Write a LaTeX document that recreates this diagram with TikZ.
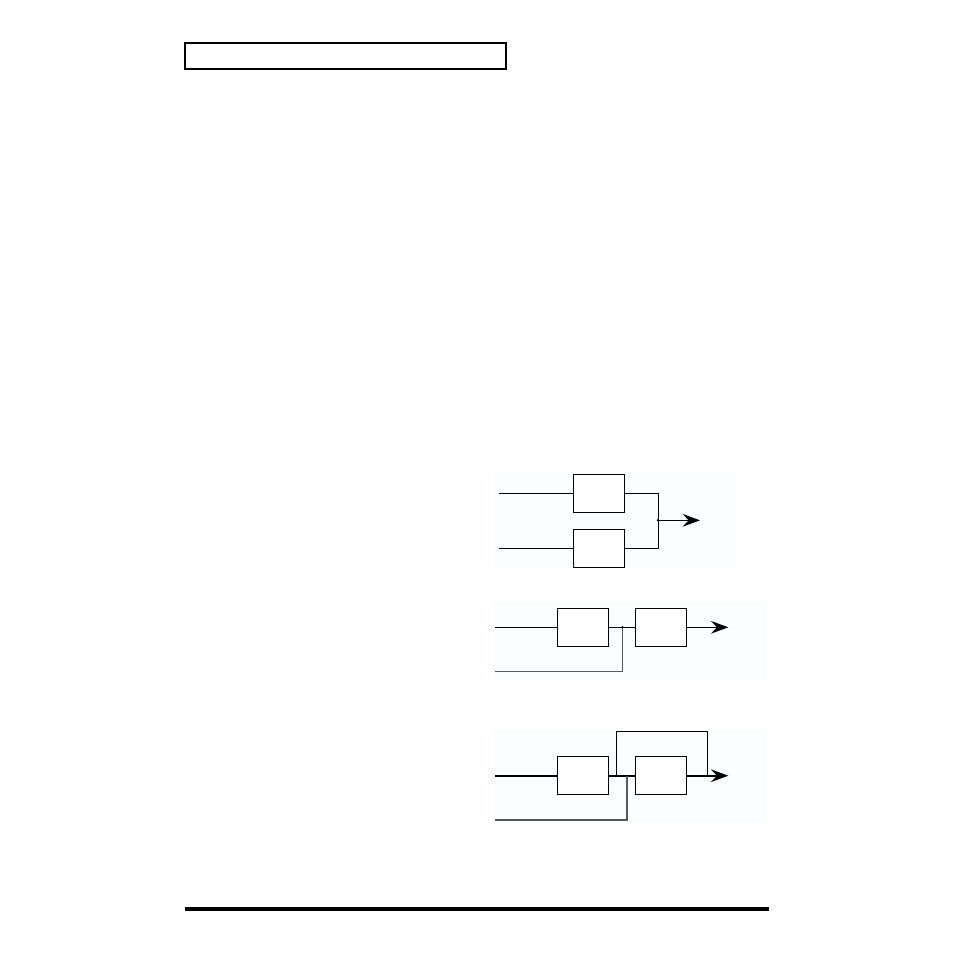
\documentclass[tikz,border=0pt]{standalone}
\usetikzlibrary{positioning,arrows.meta}
\definecolor{panelbg}{RGB}{250,254,255}
\definecolor{sendgrey}{RGB}{88,88,88}

\begin{document}
\begin{tikzpicture}
            [x=0.75pt, y=-0.75pt,
            fxbox/.style={draw=black, fill=white, line width=0.8pt, minimum width=38.25pt,
                minimum height=28.5pt, inner sep=0pt},
            wire/.style={draw=black, line width=0.75pt},
            mainwire/.style={draw=black, line width=1.4pt},
            sendwire/.style={draw=sendgrey, line width=1.1pt},
            outarrow/.style={-{Stealth[length=13pt, width=9.5pt, inset=4.5pt]}},
            joint/.style={circle, fill=black, inner sep=0pt, minimum size=2pt}]
            \useasboundingbox (0,0) rectangle (954,954);
            % page header and footer rule
            \draw [line width=1.5pt] (184.7,43.3) rectangle (506,68.7);
            \draw [line width=3pt] (184.5,909) -- (769,909);
            % panel backgrounds
            \fill [panelbg] (493,473) rectangle (738,567);
            \fill [panelbg] (493,602) rectangle (767,681);
            \fill [panelbg] (493,730) rectangle (767,822);
            % parallel
            \node [fxbox] (boxa) at (598.8,493.3) {};
            \node [fxbox] (boxb) at (598.8,548.3) {};
            \coordinate (ina) at (499,493.3);
            \coordinate (inb) at (499,548.3);
            \coordinate (sum1) at (658,520.3);
            \coordinate (out1) at (700,520.3);
            \draw [wire] (ina) -- (boxa.west);
            \draw [wire] (inb) -- (boxb.west);
            \draw [wire] (boxa.east) -| (sum1);
            \draw [wire] (boxb.east) -| (sum1);
            \draw [wire, outarrow] (sum1) -- (out1);
            \node [joint] at (sum1) {};
            % series
            \node [fxbox] (boxc) at (582.8,627.3) {};
            \node [fxbox] (boxd) at (660.8,627.3) {};
            \coordinate (inc) at (495,627.3);
            \coordinate (sendc) at (495,671.7);
            \coordinate (mix2) at (622.3,627.3);
            \coordinate (out2) at (728.3,627.3);
            \draw [wire] (inc) -- (boxc.west);
            \draw [wire] (boxc.east) -- (boxd.west);
            \draw [wire, outarrow] (boxd.east) -- (out2);
            \draw [sendwire] (sendc) -| (mix2);
            \node [joint] at (mix2) {};
            % series with bypass
            \node [fxbox] (boxe) at (582.8,775.7) {};
            \node [fxbox] (boxf) at (660.8,775.7) {};
            \coordinate (ine) at (495,775.7);
            \coordinate (sende) at (495,820);
            \coordinate (mix3) at (627,775.7);
            \coordinate (loopl) at (616.7,775.7);
            \coordinate (loopr) at (707.7,775.7);
            \coordinate (out3) at (728.3,775.7);
            \draw [mainwire] (ine) -- (boxe.west);
            \draw [mainwire] (boxe.east) -- (boxf.west);
            \draw [mainwire, outarrow] (boxf.east) -- (out3);
            \draw [wire] (loopl) -- ++(0,-44) -| (loopr);
            \draw [sendwire] (sende) -| (mix3);
            \end{tikzpicture}
\end{document}
